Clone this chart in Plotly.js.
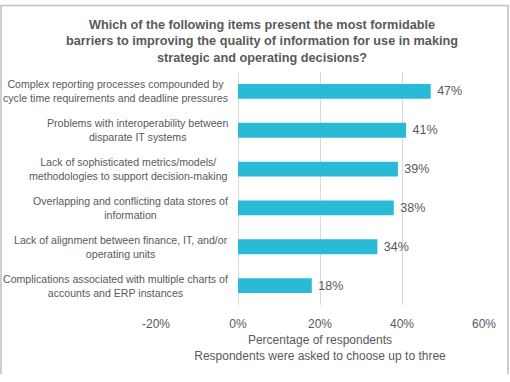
<!DOCTYPE html>
<html>
<head>
<meta charset="utf-8">
<script src="https://cdn.plot.ly/plotly-3.0.1.min.js"></script>
<style>
  html, body { margin: 0; padding: 0; background: #fff; }
  #chart { width: 510px; height: 382px; }
</style>
</head>
<body>
<div id="chart"></div>
<script>
var categories = [
  "Complex reporting processes compounded by<br>cycle time requirements and deadline pressures",
  "Problems with interoperability between<br>disparate IT systems",
  "Lack of sophisticated metrics/models/<br>methodologies to support decision-making",
  "Overlapping and conflicting data stores of<br>information",
  "Lack of alignment between finance, IT, and/or<br>operating units",
  "Complications associated with multiple charts of<br>accounts and ERP instances"
];
var values = [47, 41, 39, 38, 34, 18];
var tickValues = [-20, 0, 20, 40, 60];
var tickLabels = ["-20%", "0%", "20%", "40%", "60%"];

var textColor = "#595959";
var font = "Arial, 'Liberation Sans', sans-serif";

var trace = {
  type: "bar",
  orientation: "h",
  y: categories,
  x: values,
  marker: { color: "#29BAD8" },
  text: values.map(function (v) { return " " + v + "%"; }),
  textposition: "outside",
  textfont: { family: font, size: 12.5, color: textColor },
  cliponaxis: false,
  hoverinfo: "none"
};

var annotations = categories.map(function (c) {
  return {
    x: 0, y: c, xref: "x", yref: "y",
    text: c, showarrow: false,
    xanchor: "right", yanchor: "middle", align: "center",
    xshift: -8,
    font: { family: font, size: 10.6, color: textColor }
  };
});

var L = 156, R = 26, T = 72, B = 77, W = 510, H = 382;
var pw = W - L - R, ph = H - T - B;
function px(x) { return (x - L) / pw; }
function py(y) { return (H - B - y) / ph; }

var layout = {
  width: W, height: H,
  margin: { l: L, r: R, t: T, b: B, pad: 0 },
  paper_bgcolor: "#fff",
  plot_bgcolor: "#fff",
  font: { family: font, color: textColor },
  showlegend: false,
  bargap: 0.62,
  title: {
    text: "<b>Which of the following items present the most formidable<br>barriers to improving the quality of information for use in making<br>strategic and operating decisions?</b>",
    font: { family: font, size: 12.7, color: textColor },
    x: 262 / W, xref: "container", xanchor: "center",
    y: 1 - 28.5 / H, yref: "container", yanchor: "middle"
  },
  xaxis: {
    range: [-20, 60],
    tickvals: tickValues,
    ticktext: tickLabels,
    showgrid: true,
    gridcolor: "#D9D9D9",
    gridwidth: 1,
    zeroline: false,
    showline: false,
    ticks: "",
    ticklabelstandoff: 10,
    tickfont: { family: font, size: 12, color: textColor },
    title: {
      text: "Percentage of respondents<br>Respondents were asked to choose up to three",
      font: { family: font, size: 12, color: textColor },
      standoff: 5
    },
    fixedrange: true
  },
  yaxis: {
    type: "category",
    autorange: "reversed",
    showticklabels: false,
    showgrid: false,
    zeroline: false,
    showline: false,
    ticks: "",
    fixedrange: true
  },
  annotations: annotations,
  shapes: [{
    type: "path", xref: "paper", yref: "paper",
    path: "M " + px(1) + "," + py(374) + " L " + px(1) + "," + py(5.5) +
          " L " + px(508) + "," + py(5.5) + " L " + px(508) + "," + py(374),
    line: { color: "#BFBFBF", width: 1.5 }
  }]
};

Plotly.newPlot("chart", [trace], layout, { displayModeBar: false, staticPlot: true });
</script>
</body>
</html>
